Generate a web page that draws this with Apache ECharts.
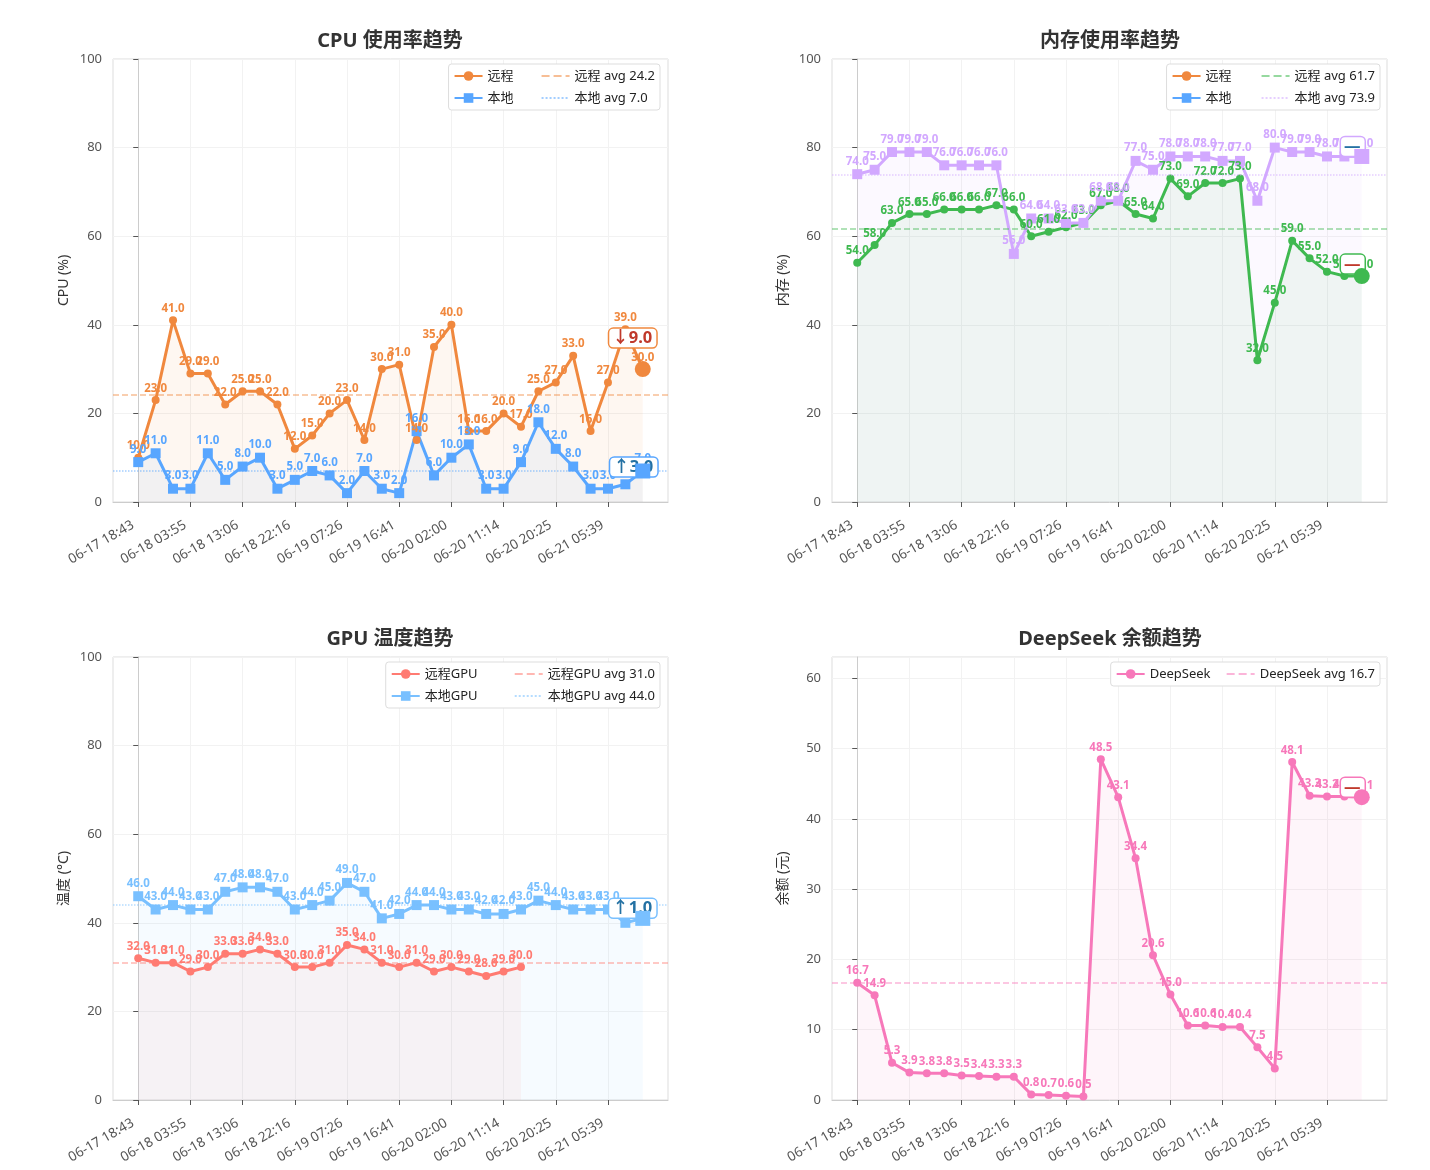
<!DOCTYPE html>
<html>
<head>
<meta charset="utf-8">
<script src="https://cdn.jsdelivr.net/npm/echarts@6/dist/echarts.min.js"></script>
<style>
html, body { margin: 0; padding: 0; background: #fff; }
#main { width: 1430px; height: 1170px; }
</style>
</head>
<body>
<div id="main"></div>
<script>
// tick labels, one for every 3rd sample
var tickLabels = ['06-17 18:43', '06-18 03:55', '06-18 13:06', '06-18 22:16', '06-19 07:26',
    '06-19 16:41', '06-20 02:00', '06-20 11:14', '06-20 20:25', '06-21 05:39'];
var tickStep = 3;

var cpuRemote = [10, 23, 41, 29, 29, 22, 25, 25, 22, 12, 15, 20, 23, 14, 30, 31, 14, 35, 40, 16, 16, 20, 17, 25, 27, 33, 16, 27, 39, 30];
var cpuLocal = [9, 11, 3, 3, 11, 5, 8, 10, 3, 5, 7, 6, 2, 7, 3, 2, 16, 6, 10, 13, 3, 3, 9, 18, 12, 8, 3, 3, 4, 7];

var memRemote = [54, 58, 63, 65, 65, 66, 66, 66, 67, 66, 60, 61, 62, 63, 67, 68, 65, 64, 73, 69, 72, 72, 73, 32, 45, 59, 55, 52, 51, 51];
var memLocal = [74, 75, 79, 79, 79, 76, 76, 76, 76, 56, 64, 64, 63, 63, 68, 68, 77, 75, 78, 78, 78, 77, 77, 68, 80, 79, 79, 78, 78, 78];

var gpuRemote = [32, 31, 31, 29, 30, 33, 33, 34, 33, 30, 30, 31, 35, 34, 31, 30, 31, 29, 30, 29, 28, 29, 30];
var gpuLocal = [46, 43, 44, 43, 43, 47, 48, 48, 47, 43, 44, 45, 49, 47, 41, 42, 44, 44, 43, 43, 42, 42, 43, 45, 44, 43, 43, 43, 40, 41];

var deepseek = [16.7, 14.9, 5.3, 3.9, 3.8, 3.8, 3.5, 3.4, 3.3, 3.3, 0.8, 0.7, 0.6, 0.5, 48.5, 43.1, 34.4, 20.6, 15.0,
    10.6, 10.6, 10.4, 10.4, 7.5, 4.5, 48.1, 43.3, 43.2, 43.2, 43.1];

var FONT = '"Noto Sans", "Noto Sans CJK SC", sans-serif';
var COL = {
    orange: '#f0883e', blue: '#58a6ff', green: '#3fb950', purple: '#d2a8ff',
    red: '#ff7b72', sky: '#79c0ff', pink: '#f778ba'
};
var UP = '#2471a3', DOWN = '#c0392b';

var chart = echarts.init(document.getElementById('main'));
var nPts = cpuRemote.length;
var tickPos = tickLabels.map(function (t, i) { return i * tickStep; });

function avg(arr) {
    var s = 0;
    arr.forEach(function (v) { s += v; });
    return s / arr.length;
}

function deltaText(arr) {
    var d = arr[arr.length - 1] - arr[arr.length - 2];
    if (Math.abs(d) < 0.5) return '—';
    return (d > 0 ? '↑' : '↓') + Math.abs(d).toFixed(1);
}

// line + optional boxed change note and big marker on the last point
function lineSeries(idx, name, values, color, symbol, box) {
    var isRect = symbol === 'rect';
    var last = values.length - 1;
    var s = {
        name: name,
        type: 'line',
        xAxisIndex: idx,
        yAxisIndex: idx,
        data: values.map(function (v, i) { return [i, v]; }),
        symbol: symbol,
        symbolSize: isRect ? 10 : 8,
        lineStyle: { width: 3, color: color },
        itemStyle: { color: color },
        areaStyle: { color: color, opacity: 0.07 },
        label: {
            show: true, position: 'top', distance: 2, color: color,
            fontSize: 11.5, fontWeight: 'bold', fontFamily: FONT,
            formatter: function (p) { return p.value[1].toFixed(1); }
        },
        emphasis: { disabled: true },
        z: 3
    };
    if (!box) return [s];
    s.markPoint = {
        silent: true,
        symbol: 'circle',
        symbolSize: 1,
        itemStyle: { color: 'transparent' },
        data: [{ coord: [last, values[last]] }],
        label: {
            show: true, position: 'inside', offset: box.offset,
            formatter: deltaText(values),
            color: box.color, fontSize: 16.5, fontWeight: 'bold', fontFamily: FONT,
            backgroundColor: '#fff', borderColor: color, borderWidth: 1.5,
            borderRadius: 4, padding: [2, 4, 0, 3]
        },
        z: 8
    };
    var endMark = {
        type: 'scatter',
        xAxisIndex: idx,
        yAxisIndex: idx,
        data: [[last, values[last]]],
        symbol: symbol,
        symbolSize: isRect ? 15 : 16,
        itemStyle: { color: color, opacity: 1 },
        silent: true,
        z: 9
    };
    return [s, endMark];
}

function avgSeries(idx, name, values, color, type) {
    var a = avg(values);
    var style = { color: color, width: 1.5, type: type, opacity: 0.55 };
    return {
        name: name + ' avg ' + a.toFixed(1),
        type: 'line',
        xAxisIndex: idx,
        yAxisIndex: idx,
        data: [],
        symbol: 'none',
        lineStyle: style,
        itemStyle: { color: color, opacity: 0 },
        markLine: {
            silent: true, symbol: 'none', label: { show: false },
            lineStyle: style, data: [{ yAxis: a }]
        }
    };
}

function xAxis(idx) {
    return {
        type: 'value', gridIndex: idx, min: -1.45, max: nPts - 1 + 1.45,
        axisLine: { show: true, onZero: false, lineStyle: { color: '#ccc' } },
        axisTick: { show: true, customValues: tickPos, length: 5, lineStyle: { color: '#555' } },
        axisLabel: {
            customValues: tickPos, rotate: 30, fontSize: 13.5, color: '#555', fontFamily: FONT,
            margin: 19, padding: [0, 6, 0, 0],
            formatter: function (v) { return tickLabels[Math.round(v / tickStep)]; }
        },
        splitLine: { show: true, lineStyle: { color: '#f2f2f2' } }
    };
}

function yAxis(idx, name, max, interval) {
    return {
        type: 'value', gridIndex: idx, min: 0, max: max, interval: interval,
        name: name, nameLocation: 'middle', nameGap: 42,
        nameTextStyle: { fontSize: 14, color: '#333', fontFamily: FONT },
        axisLine: { show: true, lineStyle: { color: '#ccc' } },
        axisTick: { show: true, length: 5, lineStyle: { color: '#555' } },
        axisLabel: { fontSize: 13, color: '#555', fontFamily: FONT, margin: 11, showMaxLabel: max % interval === 0 },
        splitLine: { show: true, lineStyle: { color: '#f2f2f2' } }
    };
}

function legend(names, right, top, colWidth, width) {
    return {
        data: names, right: right, top: top, width: width,
        orient: 'horizontal', itemWidth: 28, itemHeight: 12, itemGap: 6,
        padding: [4, 5], backgroundColor: '#fff', borderColor: '#ddd', borderWidth: 1, borderRadius: 3,
        selectedMode: false,
        formatter: function (name) { return name.indexOf(' avg ') < 0 ? '{w|' + name + '}' : name; },
        textStyle: {
            fontSize: 13, color: '#222', fontFamily: FONT, lineHeight: 16,
            rich: { w: { width: colWidth, fontSize: 13, color: '#222', fontFamily: FONT, lineHeight: 16 } }
        }
    };
}

function title(text, x, y) {
    return {
        type: 'text', x: x, y: y, silent: true,
        style: {
            text: text, font: 'bold 20px ' + FONT, fill: '#333',
            align: 'center', verticalAlign: 'middle', textAlign: 'center', textVerticalAlign: 'middle'
        }
    };
}

var gridBase = { width: 555, height: 443, show: true, borderColor: '#ddd', borderWidth: 1, backgroundColor: '#fff' };

var cpuR = avgSeries(0, '远程', cpuRemote, COL.orange, 'dashed');
var cpuL = avgSeries(0, '本地', cpuLocal, COL.blue, 'dotted');
var memR = avgSeries(1, '远程', memRemote, COL.green, 'dashed');
var memL = avgSeries(1, '本地', memLocal, COL.purple, 'dotted');
var gpuR = avgSeries(2, '远程GPU', gpuRemote, COL.red, 'dashed');
var gpuL = avgSeries(2, '本地GPU', gpuLocal, COL.sky, 'dotted');
var dsA = avgSeries(3, 'DeepSeek', deepseek, COL.pink, 'dashed');

var series = [].concat(
    lineSeries(0, '远程', cpuRemote, COL.orange, 'circle', { color: DOWN, offset: [-10, -31] }),
    lineSeries(0, '本地', cpuLocal, COL.blue, 'rect', { color: UP, offset: [-9, -4] }),
    [cpuR, cpuL],
    lineSeries(1, '远程', memRemote, COL.green, 'circle', { color: DOWN, offset: [-9, -12] }),
    lineSeries(1, '本地', memLocal, COL.purple, 'rect', { color: UP, offset: [-9, -10] }),
    [memR, memL],
    lineSeries(2, '远程GPU', gpuRemote, COL.red, 'circle', null),
    lineSeries(2, '本地GPU', gpuLocal, COL.sky, 'rect', { color: UP, offset: [-10, -10] }),
    [gpuR, gpuL],
    lineSeries(3, 'DeepSeek', deepseek, COL.pink, 'circle', { color: DOWN, offset: [-9, -10] }),
    [dsA]
);

var option = {
    animation: false,
    backgroundColor: '#fff',
    graphic: [
        title('CPU 使用率趋势', 390, 41),
        title('内存使用率趋势', 1110, 41),
        title('GPU 温度趋势', 390, 639),
        title('DeepSeek 余额趋势', 1110, 639)
    ],
    grid: [
        Object.assign({ left: 113, top: 59 }, gridBase),
        Object.assign({ left: 832, top: 59 }, gridBase),
        Object.assign({ left: 113, top: 657 }, gridBase),
        Object.assign({ left: 832, top: 657 }, gridBase)
    ],
    xAxis: [xAxis(0), xAxis(1), xAxis(2), xAxis(3)],
    yAxis: [
        yAxis(0, 'CPU (%)', 100, 20),
        yAxis(1, '内存 (%)', 100, 20),
        yAxis(2, '温度 (°C)', 100, 20),
        yAxis(3, '余额 (元)', 63.05, 10)
    ],
    legend: [
        legend(['远程', cpuR.name, '本地', cpuL.name], 1430 - 660, 64, 47, 215),
        legend(['远程', memR.name, '本地', memL.name], 1430 - 1380, 64, 49, 215),
        legend(['远程GPU', gpuR.name, '本地GPU', gpuL.name], 1430 - 660, 662, 83, 275),
        legend(['DeepSeek', dsA.name], 1430 - 1380, 662, 70, 300)
    ],
    series: series
};

chart.setOption(option);
</script>
</body>
</html>
